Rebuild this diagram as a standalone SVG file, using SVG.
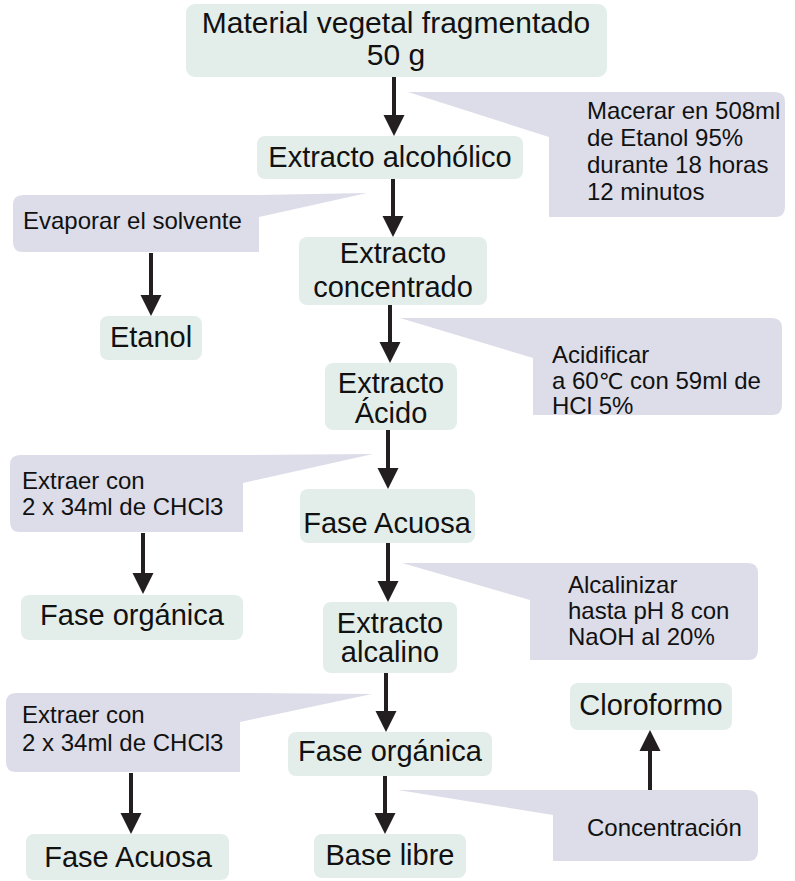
<svg xmlns="http://www.w3.org/2000/svg" width="795" height="881" viewBox="0 0 795 881">
  <defs>
    <marker id="head" viewBox="0 -11 21 22" markerWidth="21" markerHeight="22" refX="0" refY="0" orient="auto" markerUnits="userSpaceOnUse">
      <path d="M0,-10.5 L21,0 L0,10.5 Z" fill="#231f20"/>
    </marker>
    <style>
      .node rect { fill: #e3eeea; }
      .node text { font-family: "Liberation Sans", Arial, sans-serif; font-size: 29px; fill: #111; text-anchor: middle; }
      .note path { fill: #dcdde9; }
      .note text { font-family: "Liberation Sans", Arial, sans-serif; font-size: 24px; fill: #111; }
      .sym { font-family: "DejaVu Sans", sans-serif; font-size: 22px; }
      .conn line { stroke: #231f20; stroke-width: 4; marker-end: url(#head); }
    </style>
  </defs>
  <rect width="795" height="881" fill="#ffffff"/>

  <!-- callouts (process steps) -->
  <g id="note-macerar" class="note">
    <path d="M408,92 H775 Q785,92 785,102 V207 Q785,217 775,217 H549 V137 Z"/>
    <text x="587" y="119">Macerar en 508ml</text>
    <text x="587" y="146">de Etanol 95%</text>
    <text x="587" y="173">durante 18 horas</text>
    <text x="587" y="200">12 minutos</text>
  </g>
  <g id="note-evaporar" class="note">
    <path d="M23,195 H259 L367,193 L259,217 V252 H23 Q13,252 13,242 V205 Q13,195 23,195 Z"/>
    <text x="23" y="229">Evaporar el solvente</text>
  </g>
  <g id="note-acidificar" class="note">
    <path d="M400,318 H772 Q782,318 782,328 V405 Q782,415 772,415 H533 V358 Z"/>
    <text x="552" y="363">Acidificar</text>
    <text x="552" y="389">a 60<tspan class="sym">℃</tspan> con 59ml de</text>
    <text x="552" y="414">HCl 5%</text>
  </g>
  <g id="note-extraer-1" class="note">
    <path d="M20,455 H243 L373,454 L243,483 V532 H20 Q10,532 10,522 V465 Q10,455 20,455 Z"/>
    <text x="22" y="489">Extraer con</text>
    <text x="22" y="515">2 x 34ml de CHCl3</text>
  </g>
  <g id="note-alcalinizar" class="note">
    <path d="M402,563 H748 Q758,563 758,573 V650 Q758,660 748,660 H530 V600 Z"/>
    <text x="568" y="593">Alcalinizar</text>
    <text x="568" y="619">hasta pH 8 con</text>
    <text x="568" y="645">NaOH al 20%</text>
  </g>
  <g id="note-extraer-2" class="note">
    <path d="M16,693 H240 L372,694 L240,722 V772 H16 Q6,772 6,762 V703 Q6,693 16,693 Z"/>
    <text x="22" y="723">Extraer con</text>
    <text x="22" y="751">2 x 34ml de CHCl3</text>
  </g>
  <g id="note-concentracion" class="note">
    <path d="M398,790 H748 Q758,790 758,800 V851 Q758,861 748,861 H553 V815 Z"/>
    <text x="587" y="836">Concentración</text>
  </g>

  <!-- nodes -->
  <g id="material" class="node">
    <rect x="186" y="4" width="421" height="73" rx="9"/>
    <text x="396" y="33" style="font-size:30px">Material vegetal fragmentado</text>
    <text x="396" y="65" style="font-size:30px">50 g</text>
  </g>
  <g id="extracto-alcoholico" class="node">
    <rect x="257" y="136" width="266" height="43" rx="8"/>
    <text x="390" y="167">Extracto alcohólico</text>
  </g>
  <g id="extracto-concentrado" class="node">
    <rect x="299" y="237" width="188" height="68" rx="8"/>
    <text x="393" y="263">Extracto</text>
    <text x="393" y="297">concentrado</text>
  </g>
  <g id="etanol" class="node">
    <rect x="100" y="316" width="102" height="44" rx="8"/>
    <text x="151" y="347">Etanol</text>
  </g>
  <g id="extracto-acido" class="node">
    <rect x="325" y="363" width="132" height="67" rx="8"/>
    <text x="391" y="393">Extracto</text>
    <text x="391" y="423">Ácido</text>
  </g>
  <g id="fase-acuosa-1" class="node">
    <rect x="300" y="489" width="175" height="54" rx="8"/>
    <text x="387" y="533">Fase Acuosa</text>
  </g>
  <g id="fase-organica-1" class="node">
    <rect x="21" y="595" width="222" height="45" rx="8"/>
    <text x="132" y="625">Fase orgánica</text>
  </g>
  <g id="extracto-alcalino" class="node">
    <rect x="323" y="602" width="134" height="71" rx="8"/>
    <text x="390" y="633">Extracto</text>
    <text x="390" y="662">alcalino</text>
  </g>
  <g id="fase-organica-2" class="node">
    <rect x="288" y="732" width="204" height="44" rx="8"/>
    <text x="390" y="761">Fase orgánica</text>
  </g>
  <g id="base-libre" class="node">
    <rect x="314" y="834" width="152" height="44" rx="8"/>
    <text x="390" y="865">Base libre</text>
  </g>
  <g id="fase-acuosa-2" class="node">
    <rect x="26" y="834" width="203" height="46" rx="8"/>
    <text x="128" y="867">Fase Acuosa</text>
  </g>
  <g id="cloroformo" class="node">
    <rect x="570" y="683" width="162" height="47" rx="8"/>
    <text x="651" y="715">Cloroformo</text>
  </g>

  <!-- connectors: each line stops at the arrowhead base -->
  <g id="connectors" class="conn">
    <line x1="394" y1="77" x2="394" y2="115"/>
    <line x1="393" y1="179" x2="393" y2="216"/>
    <line x1="151" y1="253" x2="151" y2="295"/>
    <line x1="390" y1="305" x2="390" y2="342"/>
    <line x1="143" y1="533" x2="143" y2="573"/>
    <line x1="388" y1="430" x2="388" y2="468"/>
    <line x1="388" y1="543" x2="388" y2="581"/>
    <line x1="131" y1="773" x2="131" y2="813"/>
    <line x1="386" y1="673" x2="386" y2="711"/>
    <line x1="385" y1="776" x2="385" y2="813"/>
    <line x1="650" y1="790" x2="650" y2="751"/>
  </g>
</svg>
